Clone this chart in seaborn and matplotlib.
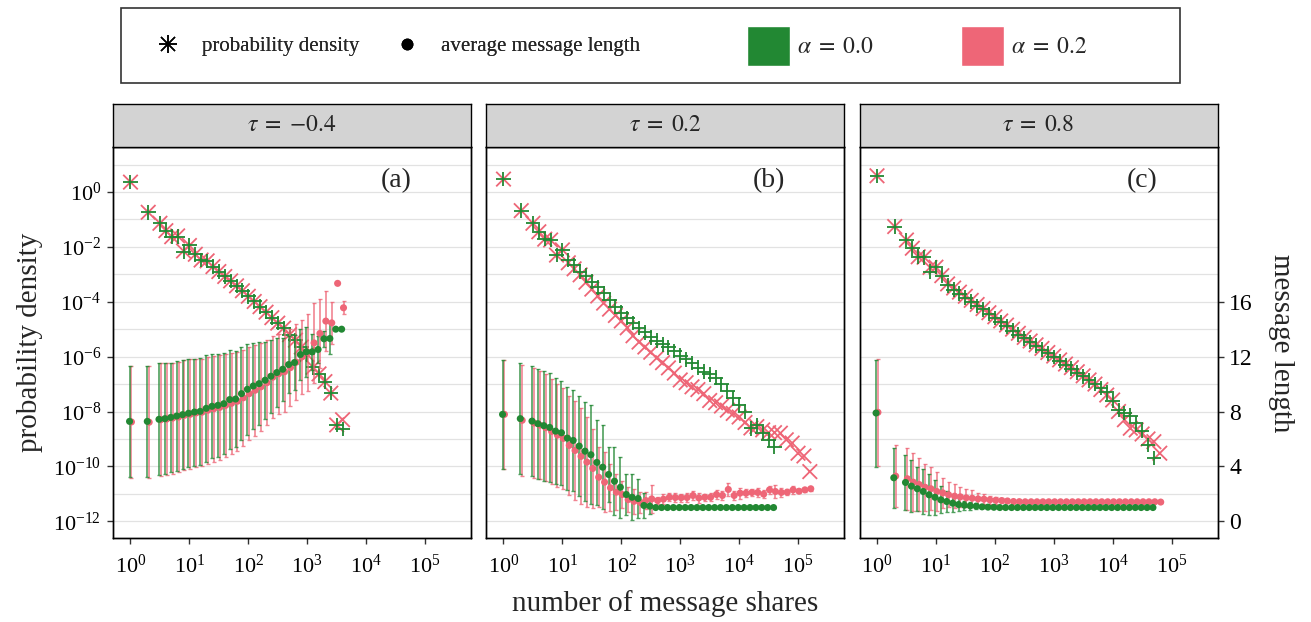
import numpy as np
import pandas as pd
import matplotlib
matplotlib.use('Agg')
import matplotlib.pyplot as plt
import seaborn as sns
from matplotlib.lines import Line2D
from matplotlib.patches import Patch, Rectangle
from matplotlib.legend_handler import HandlerTuple
from matplotlib.ticker import FixedLocator, NullLocator, NullFormatter

sns.set_theme(style='ticks')
plt.rcParams['font.family'] = ['Liberation Serif', 'DejaVu Serif']
plt.rcParams['mathtext.fontset'] = 'stix'

GREEN = '#228833'
PINK = '#EE6677'

# log-binned number of shares (bin centres)
shares = [1, 2, 3.16, 3.98, 5.01, 6.31, 7.94, 10, 12.6, 15.8, 20.0, 25.1, 31.6, 39.8, 50.1, 63.1, 79.4,
          100, 126, 158, 200, 251, 316, 398, 501, 631, 794, 1000, 1259, 1585, 1995, 2512, 3162, 3981,
          5012, 6310, 7943, 10000, 12589, 15849, 19953, 25119, 31623, 39811, 50119, 63096, 79433,
          100000, 125893, 158489]

# ---- panel (a), tau = -0.4 ----  (density given as log10)
dens_a_g = [0.36, -0.74, -1.14, -1.41, -1.63, -1.63, -2.17, -1.95, -2.27, -2.48, -2.51, -2.72, -2.9,
            -3.08, -3.24, -3.42, -3.6, -3.8, -3.99, -4.18, -4.38, -4.58, -4.78, -4.96, -5.2, -5.4,
            -5.65, -5.92, -6.39, -6.63, -6.91, -7.33, -8.49, -8.63]
dens_a_p = [0.36, -0.74, -1.14, -1.41, -1.63, -1.6, -2.15, -1.95, -2.27, -2.48, -2.51, -2.72, -2.9,
            -3.08, -3.24, -3.42, -3.6, -3.8, -3.99, -4.18, -4.38, -4.58, -4.78, -4.96, -5.2, -5.4,
            -5.65, -5.92, -6.39, -6.63, -6.91, -7.33, -8.49, -8.3]
len_a_g = [7.28, 7.28, 7.43, 7.48, 7.57, 7.67, 7.77, 7.87, 7.96, 8.01, 8.23, 8.38, 8.45, 8.57, 8.87,
           8.91, 9.3, 9.62, 9.86, 10.03, 10.28, 10.57, 10.84, 11.08, 11.42, 11.57, 12.15, 12.35,
           12.35, 12.52, 13.3, 13.32, 14.0, 14.0]
sd_a_g = [4.07, 4.07, 4.07, 4.05, 4.0, 4.0, 3.95, 3.95, 3.9, 3.9, 3.9, 3.8, 3.75, 3.7, 3.6, 3.5, 3.4,
          3.3, 3.1, 3.0, 2.8, 2.67, 2.5, 2.3, 2.07, 2.0, 1.83, 1.8, 1.3, 1.0, 0.6, 1.1, 0, 0]
len_a_p = [7.24, 7.22, 7.4, 7.45, 7.52, 7.6, 7.72, 7.8, 7.9, 7.95, 8.1, 8.2, 8.3, 8.45, 8.6, 8.75, 9.0,
           9.3, 9.55, 9.8, 10.1, 10.5, 10.75, 10.9, 11.2, 11.6, 12.0, 12.3, 13.0, 13.69, 14.59,
           14.46, 17.34, 15.56]
sd_a_p = [4.1, 4.1, 4.1, 4.1, 4.05, 4.0, 4.0, 4.0, 3.95, 3.9, 3.9, 3.85, 3.8, 3.75, 3.7, 3.6, 3.5,
          3.4, 3.3, 3.2, 3.1, 3.0, 2.9, 2.9, 2.8, 2.75, 2.7, 2.8, 2.9, 2.5, 2.2, 1.55, 0, 0.46]

# ---- panel (b), tau = 0.2 ----
dens_b_g = [0.47, -0.68, -1.14, -1.45, -1.72, -1.75, -2.3, -2.11, -2.48, -2.66, -2.9, -3.05, -3.27,
            -3.48, -3.69, -3.93, -4.18, -4.4, -4.6, -4.78, -4.95, -5.12, -5.3, -5.42, -5.55, -5.66,
            -5.8, -5.96, -6.1, -6.24, -6.4, -6.55, -6.65, -6.77, -7.0, -7.27, -7.5, -7.75, -8.0,
            -8.61, -8.49, -8.79, -9.03, -9.28]
dens_b_p = [0.47, -0.68, -1.14, -1.45, -1.72, -1.75, -2.3, -2.11, -2.58, -2.8, -3.02, -3.29, -3.54,
            -3.79, -4.05, -4.27, -4.5, -4.7, -4.95, -5.24, -5.47, -5.65, -5.84, -6.05, -6.22, -6.41,
            -6.6, -6.85, -6.95, -7.1, -7.2, -7.35, -7.6, -7.68, -7.8, -7.95, -8.07, -8.2, -8.4,
            -8.6, -8.55, -8.67, -8.77, -8.77, -8.79, -9.03, -9.15, -9.52, -9.62, -10.19]
len_b_g = [7.79, 7.48, 7.3, 7.11, 6.97, 6.84, 6.57, 6.45, 6.06, 5.89, 5.48, 5.11, 4.85, 4.29, 3.94,
           3.41, 2.92, 2.48, 1.95, 1.75, 1.66, 1.15, 1.1, 1.0, 1.0, 1.0, 1.0, 1.0, 1.0, 1.0, 1.0,
           1.0, 1.0, 1.0, 1.0, 1.0, 1.0, 1.0, 1.0, 1.0, 1.0, 1.0, 1.0, 1.0]
sd_b_g = [3.98, 4.04, 4.02, 4.0, 4.0, 3.95, 3.85, 3.8, 3.75, 3.7, 3.65, 3.6, 3.6, 3.07, 3.04, 2.0,
          2.48, 2.24, 1.5, 1.66, 1.4, 0.9, 0.6, 0, 0, 0, 0, 0, 0, 0, 0, 0, 0, 0, 0, 0, 0, 0, 0, 0, 0,
          0, 0, 0]
len_b_p = [7.79, 7.36, 7.17, 7.01, 6.82, 6.55, 6.28, 6.04, 5.53, 5.16, 4.73, 4.31, 3.85, 3.21, 2.85,
           2.44, 2.12, 1.95, 1.58, 1.45, 1.38, 1.51, 1.63, 1.51, 1.61, 1.75, 1.73, 1.72, 1.73, 1.88,
           1.70, 1.75, 1.75, 1.95, 1.88, 2.32, 1.88, 2.05, 2.05, 2.1, 2.1, 1.98, 2.29, 2.17, 2.1,
           2.12, 2.29, 2.19, 2.29, 2.37]
sd_b_p = [3.98, 4.05, 4.0, 3.95, 3.9, 3.85, 3.75, 3.7, 3.6, 3.6, 3.5, 3.3, 2.9, 2.2, 2.2, 1.7, 1.3,
          1.0, 0.9, 0.9, 0.75, 0.6, 1.03, 0.25, 0.35, 0.3, 0.35, 0.3, 0.3, 0.3, 0.35, 0.25, 0.3, 0.3,
          0.35, 0.5, 0.3, 0.4, 0.3, 0.25, 0.3, 0.3, 0.3, 0.45, 0.3, 0.2, 0.3, 0.15, 0.15, 0.15]

# ---- panel (c), tau = 0.8 ----
dens_c_g = [0.59, -1.26, -1.75, -2.05, -2.36, -2.38, -2.9, -2.74, -3.05, -3.4, -3.56, -3.7, -3.85,
            -4.0, -4.15, -4.28, -4.45, -4.6, -4.75, -4.9, -5.05, -5.2, -5.33, -5.47, -5.6, -5.75,
            -5.88, -6.02, -6.16, -6.3, -6.44, -6.58, -6.72, -6.86, -7.0, -7.15, -7.3, -7.6, -7.95,
            -8.05, -8.15, -8.43, -8.71, -9.22, -9.7]
dens_c_p = [0.59, -1.26, -1.75, -2.05, -2.36, -2.38, -2.75, -2.74, -3.05, -3.35, -3.5, -3.65, -3.8,
            -3.95, -4.1, -4.25, -4.4, -4.55, -4.7, -4.85, -5.0, -5.15, -5.3, -5.43, -5.57, -5.7,
            -5.85, -5.98, -6.12, -6.27, -6.4, -6.55, -6.7, -6.85, -7.0, -7.2, -7.4, -7.58, -8.0,
            -8.3, -8.61, -8.67, -8.82, -9.0, -9.1, -9.52]
len_c_g = [7.89, 3.17, 2.83, 2.56, 2.37, 2.17, 1.93, 1.75, 1.56, 1.44, 1.32, 1.22, 1.17, 1.12, 1.1,
           1.05, 1.03, 1.02, 1.0, 1.0, 1.0, 1.0, 1.0, 1.0, 1.0, 1.0, 1.0, 1.0, 1.0, 1.0, 1.0, 1.0,
           1.0, 1.0, 1.0, 1.0, 1.0, 1.0, 1.0, 1.0, 1.0, 1.0, 1.0, 1.0, 1.0]
sd_c_g = [3.9, 2.17, 1.98, 1.89, 1.62, 1.62, 1.49, 1.26, 0.98, 0.79, 0.63, 0.49, 0.33, 0.28, 0.2,
          0.1, 0.05, 0.03, 0, 0, 0, 0, 0, 0, 0, 0, 0, 0, 0, 0, 0, 0, 0, 0, 0, 0, 0, 0, 0, 0, 0, 0, 0,
          0, 0]
len_c_p = [7.94, 3.29, 3.1, 2.85, 2.68, 2.48, 2.37, 2.17, 2.07, 1.93, 1.83, 1.78, 1.71, 1.68, 1.63,
           1.61, 1.56, 1.53, 1.51, 1.48, 1.44, 1.43, 1.42, 1.42, 1.42, 1.42, 1.42, 1.42, 1.42, 1.42,
           1.42, 1.42, 1.42, 1.42, 1.42, 1.42, 1.42, 1.42, 1.42, 1.42, 1.42, 1.42, 1.42, 1.42, 1.42,
           1.4]
sd_c_p = [3.9, 2.25, 2.26, 2.1, 1.9, 1.7, 1.56, 1.44, 1.1, 0.91, 0.85, 0.73, 0.66, 0.57, 0.43, 0.35,
          0.3, 0.25, 0.2, 0.15, 0.12, 0.1, 0.08, 0.06, 0.05, 0.05, 0.05, 0.05, 0.05, 0.05, 0.05, 0.05,
          0.05, 0.05, 0.05, 0.05, 0.05, 0.05, 0.05, 0.05, 0.05, 0.05, 0.05, 0.05, 0.05, 0.05]

taus = ['-0.4', '0.2', '0.8']
tags = ['(a)', '(b)', '(c)']
dens = [(dens_a_g, dens_a_p), (dens_b_g, dens_b_p), (dens_c_g, dens_c_p)]
lens = [(len_a_g, sd_a_g, len_a_p, sd_a_p), (len_b_g, sd_b_g, len_b_p, sd_b_p),
        (len_c_g, sd_c_g, len_c_p, sd_c_p)]

x_breaks = [1, 10, 100, 1000, 10000, 100000]
dens_breaks = [1e-12, 1e-10, 1e-8, 1e-6, 1e-4, 1e-2, 1e0]
dens_minor = [1e-11, 1e-9, 1e-7, 1e-5, 1e-3, 1e-1, 1e1]
len_breaks = [0, 4, 8, 12, 16]

fig = plt.figure(figsize=(13.11, 6.22), dpi=100)
lefts = [113 / 1311, 486 / 1311, 859.5 / 1311]
W, B, H = 358 / 1311, 0.1346, 0.6291
pal = {'0.0': GREEN, '0.2': PINK}

for i in range(3):
    ax = fig.add_axes([lefts[i], B, W, H])
    ax.set_xscale('log')
    ax.set_yscale('log')
    ax2 = ax.twinx()

    g, p = dens[i]
    df_d = pd.DataFrame({
        'shares': shares[:len(p)] + shares[:len(g)],
        'density': list(10 ** np.array(p)) + list(10 ** np.array(g)),
        'alpha': ['0.2'] * len(p) + ['0.0'] * len(g),
    })
    sns.scatterplot(data=df_d, x='shares', y='density', hue='alpha', style='alpha',
                    markers={'0.0': '+', '0.2': 'x'}, palette=pal, s=110, linewidth=1.3,
                    legend=False, ax=ax, zorder=3)

    lg, sg, lp, sp = lens[i]
    xg = np.array(shares[:len(lg)]) * 10 ** -0.016
    xp = np.array(shares[:len(lp)]) * 10 ** 0.016
    ax2.errorbar(xp, lp, yerr=sp, fmt='none', ecolor=PINK, elinewidth=1.2, capsize=1.6,
                 capthick=1.0, alpha=0.8, zorder=1)
    ax2.errorbar(xg, lg, yerr=sg, fmt='none', ecolor=GREEN, elinewidth=1.2, capsize=1.6,
                 capthick=1.0, alpha=0.8, zorder=1)
    df_l = pd.DataFrame({
        'shares': list(xp) + list(xg),
        'length': lp + lg,
        'alpha': ['0.2'] * len(lp) + ['0.0'] * len(lg),
    })
    sns.scatterplot(data=df_l, x='shares', y='length', hue='alpha', palette=pal, s=26,
                    linewidth=0, legend=False, ax=ax2, zorder=2)

    ax.set_xlim(10 ** -0.297, 10 ** 5.78)
    ax.set_ylim(10 ** -12.62, 10 ** 1.64)
    ax2.set_ylim(-1.24, 27.28)
    for a in (ax, ax2):
        a.set_xlabel('')
        a.set_ylabel('')

    ax.xaxis.set_major_locator(FixedLocator(x_breaks))
    ax.xaxis.set_minor_locator(NullLocator())
    ax.yaxis.set_major_locator(FixedLocator(dens_breaks))
    ax.yaxis.set_minor_locator(FixedLocator(dens_minor))
    ax.yaxis.set_minor_formatter(NullFormatter())
    ax.set_axisbelow(True)
    ax.grid(True, which='both', axis='y', color='#E2E2E2', lw=0.9)
    ax.tick_params(axis='both', which='major', direction='out', length=4.5, width=1,
                   color='#333333', labelsize=16, labelcolor='black', pad=4)
    ax.tick_params(axis='x', which='major', pad=7)
    ax.tick_params(axis='y', which='minor', length=0)
    if i > 0:
        ax.tick_params(axis='y', which='both', left=False, labelleft=False)

    if i == 2:
        ax2.set_yticks(len_breaks)
        ax2.tick_params(axis='y', direction='out', length=4.5, width=1, color='#333333',
                        labelsize=17, labelcolor='black', pad=4)
    else:
        ax2.tick_params(axis='y', right=False, labelright=False)

    for a in (ax, ax2):
        for s in a.spines.values():
            s.set_color('black')
            s.set_linewidth(1.0)

    ax.text(0.79, 0.913, tags[i], transform=ax.transAxes, fontsize=20, ha='center', va='center')

    sax = fig.add_axes([lefts[i], 0.7637, W, 0.0691])
    sax.set_facecolor('#D3D3D3')
    sax.set_xticks([])
    sax.set_yticks([])
    for s in sax.spines.values():
        s.set_color('black')
        s.set_linewidth(1.0)
    sax.text(0.5, 0.5, r'$\tau\;=\;{' + taus[i] + '}$', transform=sax.transAxes,
             ha='center', va='center', fontsize=17)

fig.text(0.0229, 0.449, 'probability density', rotation=90, fontsize=21, ha='center', va='center')
fig.text(0.977, 0.449, 'message length', rotation=-90, fontsize=21, ha='center', va='center')
fig.text(0.5072, 0.0305, 'number of message shares', fontsize=21, ha='center', va='center')

# legend box
fig.add_artist(Rectangle((0.0923, 0.8666), 0.8078, 0.1205, transform=fig.transFigure,
                         fill=False, edgecolor='#333333', lw=1.2))
star = (Line2D([], [], marker='+', color='black', ls='none', ms=13, mew=1.1),
        Line2D([], [], marker='x', color='black', ls='none', ms=10, mew=1.1))
dot = Line2D([], [], marker='o', color='black', ls='none', ms=7.5)
leg1 = fig.legend([star, dot], ['probability density', 'average message length'],
                  loc='center left', bbox_to_anchor=(0.1202, 0.926), ncol=2, frameon=False,
                  fontsize=15, handlelength=1.0, handletextpad=1.15, columnspacing=1.76,
                  borderpad=0, borderaxespad=0, handler_map={tuple: HandlerTuple(ndivide=1)})
fig.add_artist(leg1)
fig.legend([Patch(facecolor=GREEN), Patch(facecolor=PINK)],
           [r'$\alpha\;=\;0.0$', r'$\alpha\;=\;0.2$'],
           loc='center left', bbox_to_anchor=(0.5698, 0.926), ncol=2, frameon=False,
           fontsize=17, handlelength=1.82, handleheight=2.29, handletextpad=0.3,
           columnspacing=3.7, borderpad=0, borderaxespad=0)

fig.savefig('out.png', dpi=100)
